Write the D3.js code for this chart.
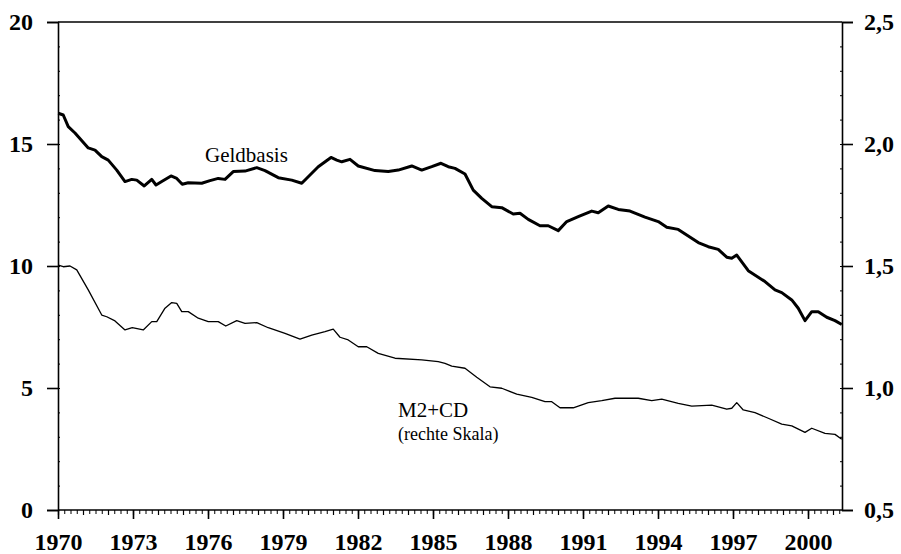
<!DOCTYPE html>
<html>
<head>
<meta charset="utf-8">
<script src="https://cdn.jsdelivr.net/npm/d3@7"></script>
<style>
  html, body { margin: 0; padding: 0; background: #fff; }
  svg { display: block; }
  text { font-family: "Liberation Serif", "Times New Roman", serif; fill: #000; }
</style>
</head>
<body>
<svg id="chart" width="901" height="554"></svg>
<script>
// ---- Data ----
const geldYears = [1970.01,1970.21,1970.41,1970.68,1971.21,1971.48,1971.75,1972.01,1972.35,1972.68,1972.95,1973.15,1973.45,1973.75,1973.92,1974.15,1974.52,1974.75,1974.97,1975.21,1975.75,1976.08,1976.41,1976.68,1977.01,1977.48,1977.95,1978.28,1978.81,1979.35,1979.75,1980.01,1980.41,1980.92,1981.15,1981.35,1981.68,1982.01,1982.68,1983.21,1983.61,1984.15,1984.55,1984.95,1985.32,1985.61,1985.88,1986.28,1986.61,1986.95,1987.35,1987.75,1988.21,1988.48,1988.81,1989.28,1989.61,1990.01,1990.35,1990.81,1991.35,1991.61,1992.01,1992.41,1992.88,1993.48,1994.01,1994.35,1994.81,1995.61,1996.01,1996.41,1996.75,1996.95,1997.15,1997.61,1998.28,1998.68,1998.95,1999.35,1999.61,1999.88,2000.15,2000.41,2000.75,2001.08,2001.35];
const geldValues = [16.26,16.19,15.71,15.45,14.84,14.75,14.48,14.34,13.93,13.46,13.55,13.52,13.28,13.55,13.32,13.46,13.69,13.59,13.35,13.41,13.39,13.50,13.59,13.55,13.87,13.89,14.03,13.91,13.62,13.52,13.39,13.66,14.07,14.45,14.34,14.27,14.37,14.10,13.91,13.87,13.93,14.10,13.93,14.07,14.21,14.07,14.00,13.77,13.11,12.77,12.43,12.39,12.13,12.16,11.91,11.65,11.65,11.45,11.82,12.02,12.25,12.18,12.46,12.32,12.25,12.00,11.82,11.59,11.50,10.96,10.79,10.68,10.36,10.32,10.45,9.81,9.36,9.02,8.91,8.61,8.27,7.76,8.13,8.13,7.90,7.76,7.60];

const m2Years = [1970.01,1970.21,1970.48,1970.75,1971.21,1971.75,1971.95,1972.28,1972.68,1972.97,1973.41,1973.75,1973.95,1974.28,1974.55,1974.75,1974.95,1975.21,1975.61,1976.01,1976.41,1976.71,1977.15,1977.48,1977.95,1978.41,1979.08,1979.68,1980.15,1980.68,1981.01,1981.28,1981.61,1982.01,1982.35,1982.81,1983.48,1984.55,1985.21,1985.48,1985.75,1986.28,1986.75,1987.28,1987.75,1988.35,1988.95,1989.48,1989.75,1990.08,1990.61,1991.21,1991.75,1992.28,1993.21,1993.75,1994.15,1994.81,1995.35,1996.15,1996.75,1996.95,1997.15,1997.41,1997.88,1998.41,1998.95,1999.35,1999.88,2000.15,2000.68,2001.08,2001.35];
const m2Values = [1.504,1.497,1.500,1.484,1.402,1.299,1.292,1.275,1.238,1.247,1.238,1.272,1.272,1.327,1.350,1.347,1.313,1.313,1.286,1.272,1.272,1.254,1.276,1.265,1.268,1.247,1.224,1.200,1.217,1.231,1.241,1.208,1.197,1.169,1.169,1.142,1.122,1.115,1.108,1.101,1.090,1.081,1.044,1.005,0.999,0.975,0.962,0.944,0.944,0.919,0.919,0.940,0.948,0.958,0.958,0.948,0.954,0.937,0.926,0.930,0.913,0.917,0.940,0.910,0.899,0.876,0.852,0.845,0.818,0.835,0.814,0.810,0.790];

const yearTicks = [1970,1973,1976,1979,1982,1985,1988,1991,1994,1997,2000];
const leftTicks = [0,5,10,15,20];
const rightTicks = [0.5,1.0,1.5,2.0,2.5];
const labelGeld = "Geldbasis";
const labelM2 = "M2+CD";
const labelM2Sub = "(rechte Skala)";

// ---- Layout ----
const svg = d3.select("#chart");
const L = 58, R = 842, T = 22, B = 510;

const x = d3.scaleLinear().domain([1970, 2001.36]).range([L, R]);
const yL = d3.scaleLinear().domain([0, 20]).range([B, T]);
const yR = d3.scaleLinear().domain([0.5, 2.5]).range([B, T]);

const tickFont = { size: "24px", weight: "bold" };

// frame (top line)
svg.append("line").attr("x1", L).attr("x2", R).attr("y1", T).attr("y2", T)
  .attr("stroke", "#000").attr("stroke-width", 1.6);

// minor x ticks (quarterly)
const quarters = d3.range(1970, 2001.36, 0.25);
svg.append("g").attr("transform", `translate(0,${B})`)
  .call(d3.axisBottom(x).tickValues(quarters).tickSize(4).tickFormat(""))
  .call(g => g.select(".domain").remove())
  .call(g => g.selectAll("line").attr("stroke", "#000").attr("stroke-width", 1));

// yearly x ticks
svg.append("g").attr("transform", `translate(0,${B})`)
  .call(d3.axisBottom(x).tickValues(d3.range(1970, 2002, 1)).tickSize(5).tickFormat(""))
  .call(g => g.select(".domain").remove())
  .call(g => g.selectAll("line").attr("stroke", "#000").attr("stroke-width", 1.2));

// major x axis
const xAxis = svg.append("g").attr("transform", `translate(0,${B})`)
  .call(d3.axisBottom(x).tickValues(yearTicks).tickSize(9).tickPadding(14).tickFormat(d3.format("d")));
xAxis.select(".domain").remove();
xAxis.selectAll("line").attr("stroke", "#000").attr("stroke-width", 1.6);
xAxis.selectAll("text").attr("font-size", tickFont.size).attr("font-weight", tickFont.weight)
  .attr("font-family", "Liberation Serif, serif").attr("fill", "#000");
svg.append("line").attr("x1", L).attr("x2", R).attr("y1", B).attr("y2", B)
  .attr("stroke", "#000").attr("stroke-width", 1.6);

// left axis minor ticks (inside)
svg.append("g").attr("transform", `translate(${L},0)`)
  .call(d3.axisRight(yL).tickValues(d3.range(1, 20, 1)).tickSize(2).tickFormat(""))
  .call(g => g.select(".domain").remove())
  .call(g => g.selectAll("line").attr("stroke", "#000"));

// left axis
const yAxisL = svg.append("g").attr("transform", `translate(${L},0)`)
  .call(d3.axisLeft(yL).tickValues(leftTicks).tickSize(11).tickPadding(14).tickFormat(d3.format("d")));
yAxisL.select(".domain").attr("stroke", "#000").attr("stroke-width", 1.6);
yAxisL.selectAll("line").attr("stroke", "#000").attr("stroke-width", 1.6);
yAxisL.selectAll("text").attr("font-size", tickFont.size).attr("font-weight", tickFont.weight)
  .attr("font-family", "Liberation Serif, serif").attr("fill", "#000");

// right axis minor ticks (inside)
svg.append("g").attr("transform", `translate(${R},0)`)
  .call(d3.axisLeft(yR).tickValues(d3.range(0.6, 2.45, 0.1)).tickSize(2).tickFormat(""))
  .call(g => g.select(".domain").remove())
  .call(g => g.selectAll("line").attr("stroke", "#000"));

// right axis
const fmtComma = d => d3.format(".1f")(d).replace(".", ",");
const yAxisR = svg.append("g").attr("transform", `translate(${R},0)`)
  .call(d3.axisRight(yR).tickValues(rightTicks).tickSize(11).tickPadding(11).tickFormat(fmtComma));
yAxisR.select(".domain").attr("stroke", "#000").attr("stroke-width", 1.6);
yAxisR.selectAll("line").attr("stroke", "#000").attr("stroke-width", 1.6);
yAxisR.selectAll("text").attr("font-size", tickFont.size).attr("font-weight", tickFont.weight)
  .attr("font-family", "Liberation Serif, serif").attr("fill", "#000");

// ---- Lines ----
const geld = geldYears.map((t, i) => [t, geldValues[i]]);
const m2 = m2Years.map((t, i) => [t, m2Values[i]]);

svg.append("path").datum(m2)
  .attr("fill", "none").attr("stroke", "#000").attr("stroke-width", 1.3)
  .attr("stroke-linejoin", "round")
  .attr("d", d3.line().x(d => x(d[0])).y(d => yR(d[1])));

svg.append("path").datum(geld)
  .attr("fill", "none").attr("stroke", "#000").attr("stroke-width", 3)
  .attr("stroke-linejoin", "round")
  .attr("d", d3.line().x(d => x(d[0])).y(d => yL(d[1])));

// ---- Labels ----
svg.append("text").attr("x", x(1975.88)).attr("y", yL(14.25))
  .attr("font-size", "21px").text(labelGeld);
svg.append("text").attr("x", x(1983.6)).attr("y", yL(3.82))
  .attr("font-size", "21px").text(labelM2);
svg.append("text").attr("x", x(1983.6)).attr("y", yL(2.86))
  .attr("font-size", "18px").text(labelM2Sub);
</script>
</body>
</html>
